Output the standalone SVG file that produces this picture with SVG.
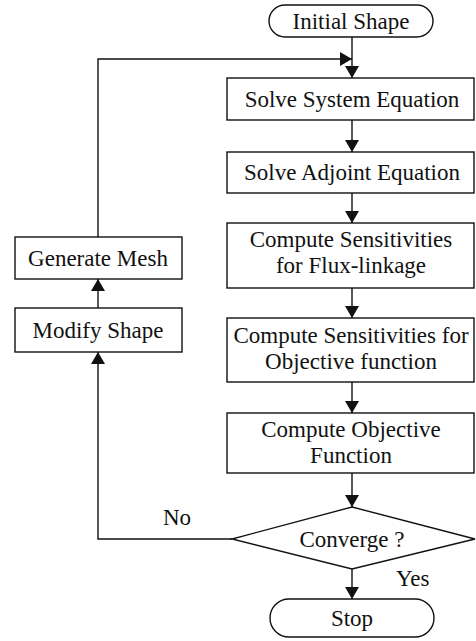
<svg xmlns="http://www.w3.org/2000/svg" width="476" height="641" viewBox="0 0 476 641">
<defs>
<style>
.box{fill:#fff;stroke:#111;stroke-width:1.4}
.t{font-family:"Liberation Serif","Times New Roman",serif;font-size:23px;fill:#111;text-anchor:middle}
.l{font-family:"Liberation Serif","Times New Roman",serif;font-size:23px;fill:#111}
.c{fill:none;stroke:#111;stroke-width:1.4}
</style>
<marker id="ah" markerUnits="userSpaceOnUse" markerWidth="12" markerHeight="14" viewBox="0 0 12 14" refX="12" refY="7" orient="auto">
<path d="M0,0 L12,7 L0,14 Z" fill="#111"/>
</marker>
</defs>
<rect width="476" height="641" fill="#fff"/>
<g id="connectors">
<path class="c" d="M352,37 V78" marker-end="url(#ah)"/>
<path class="c" d="M98,237 V59 H352" marker-end="url(#ah)"/>
<path class="c" d="M352,120 V152" marker-end="url(#ah)"/>
<path class="c" d="M352,193 V223" marker-end="url(#ah)"/>
<path class="c" d="M352,288 V318" marker-end="url(#ah)"/>
<path class="c" d="M352,382 V413" marker-end="url(#ah)"/>
<path class="c" d="M352,473 V507" marker-end="url(#ah)"/>
<path class="c" d="M352,569 V599" marker-end="url(#ah)"/>
<path class="c" d="M232,539 H98 V352" marker-end="url(#ah)"/>
<path class="c" d="M98,308 V279" marker-end="url(#ah)"/>
<text class="l" x="396" y="586">Yes</text>
<text class="l" x="163" y="525">No</text>
</g>
<g id="initial">
<rect class="box" x="269" y="5" width="164" height="32" rx="16"/>
<text class="t" x="351" y="29">Initial Shape</text>
</g>
<g id="solve-system">
<rect class="box" x="227" y="78" width="247" height="42"/>
<text class="t" x="352" y="107">Solve System Equation</text>
</g>
<g id="solve-adjoint">
<rect class="box" x="227" y="152" width="247" height="41"/>
<text class="t" x="352" y="180">Solve Adjoint Equation</text>
</g>
<g id="sens-flux">
<rect class="box" x="227" y="223" width="247" height="65"/>
<text class="t" x="351" y="247">Compute Sensitivities</text>
<text class="t" x="351" y="273">for Flux-linkage</text>
</g>
<g id="sens-obj">
<rect class="box" x="227" y="318" width="247" height="64"/>
<text class="t" x="351" y="343">Compute Sensitivities for</text>
<text class="t" x="351" y="369">Objective function</text>
</g>
<g id="obj">
<rect class="box" x="227" y="413" width="247" height="60"/>
<text class="t" x="351" y="437">Compute Objective</text>
<text class="t" x="351" y="463">Function</text>
</g>
<g id="converge">
<path class="box" d="M352,507 L475,539 L352,569 L232,539 Z"/>
<text class="t" x="352" y="547">Converge ?</text>
</g>
<g id="stop">
<rect class="box" x="270" y="599" width="164" height="38" rx="19"/>
<text class="t" x="352" y="626">Stop</text>
</g>
<g id="generate-mesh">
<rect class="box" x="15" y="237" width="167" height="42"/>
<text class="t" x="98" y="266">Generate Mesh</text>
</g>
<g id="modify-shape">
<rect class="box" x="15" y="308" width="167" height="44"/>
<text class="t" x="98" y="338">Modify Shape</text>
</g>
</svg>
